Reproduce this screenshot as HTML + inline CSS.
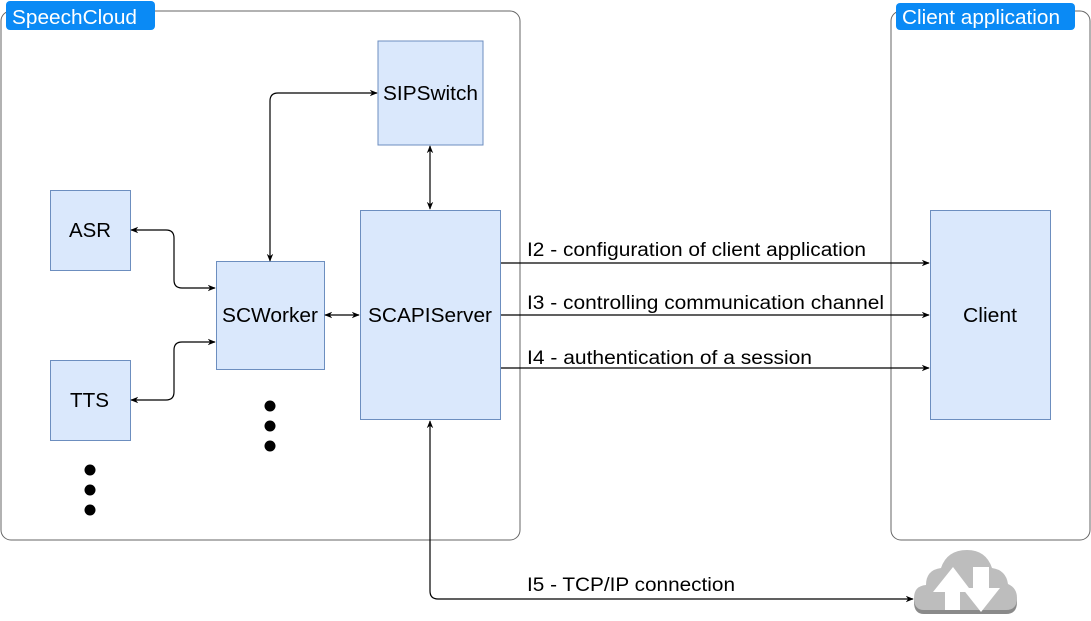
<!DOCTYPE html>
<html><head><meta charset="utf-8"><style>
html,body{margin:0;padding:0;background:#fff;}
svg{display:block;font-family:"Liberation Sans",Helvetica,Arial,sans-serif;}
</style></head><body>
<svg width="1091" height="621" viewBox="0 0 1091 621" xmlns="http://www.w3.org/2000/svg">
<defs>
<marker id="a" viewBox="0 0 10 10" refX="9" refY="5" markerWidth="8" markerHeight="8" orient="auto-start-reverse" markerUnits="userSpaceOnUse"><path d="M0,1 L10,5 L0,9 L3,5 Z" fill="#000"/></marker>
</defs>
<rect x="1" y="11" width="519" height="529" rx="10" fill="none" stroke="#666" stroke-width="1"/>
<rect x="891" y="11" width="199" height="529" rx="10" fill="none" stroke="#666" stroke-width="1"/>
<rect x="6" y="1" width="149" height="29" rx="4" fill="#0a8af5"/>
<text x="12" y="24" font-size="20" fill="#fff" textLength="125" lengthAdjust="spacingAndGlyphs">SpeechCloud</text>
<rect x="896" y="3" width="179" height="27" rx="4" fill="#0a8af5"/>
<text x="902" y="24" font-size="20" fill="#fff" textLength="158" lengthAdjust="spacingAndGlyphs">Client application</text>
<g fill="#dae8fc" stroke="#6c8ebf" stroke-width="1">
<rect x="378" y="41" width="105" height="104"/>
<rect x="50.5" y="190.5" width="80" height="80"/>
<rect x="216.5" y="261.5" width="108" height="108"/>
<rect x="360.5" y="210.5" width="140" height="209"/>
<rect x="50.5" y="360.5" width="80" height="80"/>
<rect x="930.5" y="210.5" width="120" height="209"/>
</g>
<g font-size="20" fill="#000" lengthAdjust="spacingAndGlyphs">
<text x="383" y="100" textLength="95" lengthAdjust="spacingAndGlyphs">SIPSwitch</text>
<text x="69" y="237" textLength="42" lengthAdjust="spacingAndGlyphs">ASR</text>
<text x="222" y="322" textLength="96" lengthAdjust="spacingAndGlyphs">SCWorker</text>
<text x="368" y="322" textLength="124" lengthAdjust="spacingAndGlyphs">SCAPIServer</text>
<text x="70" y="407" textLength="39" lengthAdjust="spacingAndGlyphs">TTS</text>
<text x="963" y="322" textLength="54" lengthAdjust="spacingAndGlyphs">Client</text>
</g>
<g fill="none" stroke="#000" stroke-width="1.2">
<path d="M377,93 L278,93 Q270,93 270,101 L270,261" marker-start="url(#a)" marker-end="url(#a)"/>
<path d="M430,146 L430,209" marker-start="url(#a)" marker-end="url(#a)"/>
<path d="M131,230 L166,230 Q174,230 174,238 L174,280 Q174,288 182,288 L215,288" marker-start="url(#a)" marker-end="url(#a)"/>
<path d="M131,400 L166,400 Q174,400 174,392 L174,350 Q174,342 182,342 L215,342" marker-start="url(#a)" marker-end="url(#a)"/>
<path d="M325,315 L359,315" marker-start="url(#a)" marker-end="url(#a)"/>
<path d="M501,263 L929,263" marker-end="url(#a)"/>
<path d="M501,315 L929,315" marker-end="url(#a)"/>
<path d="M501,368 L929,368" marker-end="url(#a)"/>
<path d="M430,421 L430,591 Q430,599 438,599 L913,599" marker-start="url(#a)" marker-end="url(#a)"/>
</g>
<g font-size="19" fill="#000">
<text x="527" y="256" textLength="339" lengthAdjust="spacingAndGlyphs">I2 - configuration of client application</text>
<text x="527" y="309" textLength="357" lengthAdjust="spacingAndGlyphs">I3 - controlling communication channel</text>
<text x="527" y="364" textLength="285" lengthAdjust="spacingAndGlyphs">I4 - authentication of a session</text>
<text x="527" y="591" textLength="208" lengthAdjust="spacingAndGlyphs">I5 - TCP/IP connection</text>
</g>
<g fill="#000">
<circle cx="270" cy="406" r="5.5"/><circle cx="270" cy="426" r="5.5"/><circle cx="270" cy="446" r="5.5"/>
<circle cx="90" cy="470" r="5.5"/><circle cx="90" cy="490" r="5.5"/><circle cx="90" cy="510" r="5.5"/>
</g>
<g transform="translate(914,550)">
<path d="M10,62 Q0,62 0,50 Q0,38 12,37 Q12,22 27,20 Q33,2 53,2 Q72,2 78,20 Q92,22 94,36 Q103,40 103,50 Q103,62 92,62 Z" fill="#8a8a8a" transform="translate(0,2)"/>
<path d="M10,60 Q0,60 0,48 Q0,36 12,35 Q12,20 27,18 Q33,0 53,0 Q72,0 78,18 Q92,20 94,34 Q103,38 103,48 Q103,60 92,60 Z" fill="#bdbdbd"/>
<path d="M39,17 L19,42 L31,42 L31,60 L46,60 L46,42 L58,42 Z" fill="#fff"/>
<path d="M59,17 L59,38 L48,38 L67,62 L86,38 L75,38 L75,17 Z" fill="#fff"/>
</g>
</svg>
</body></html>
